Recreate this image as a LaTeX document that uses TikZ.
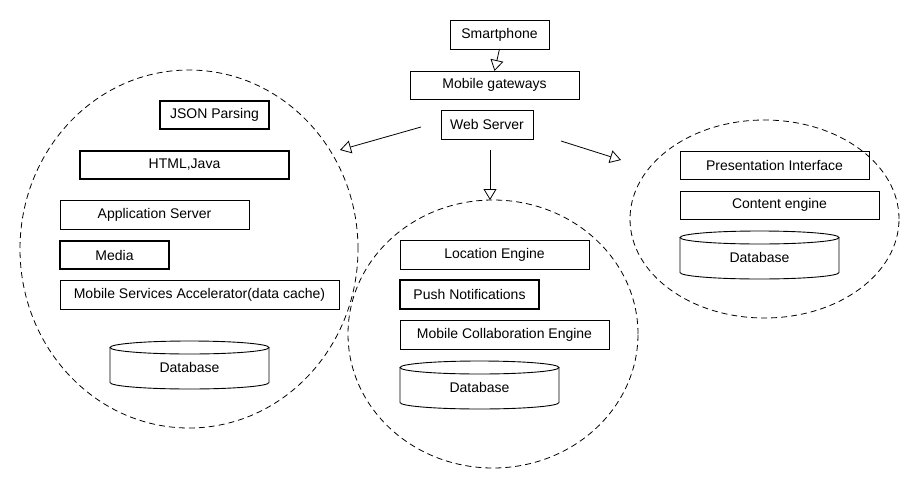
\documentclass[tikz,border=0pt]{standalone}
\usepackage{fontspec}
\setmainfont{Liberation Sans}
\usetikzlibrary{shapes.geometric,arrows.meta}
\tikzset{
  bx/.style={draw, line width=0.9pt, inner sep=0pt, outer sep=0pt, anchor=north west, font=\fontsize{14}{16}\selectfont},
  bxthick/.style={bx, line width=1.4pt},
  zone/.style={draw, ellipse, dashed, dash pattern=on 6pt off 4pt, line width=0.8pt, inner sep=0pt, outer sep=0pt},
  arr/.style={line width=0.8pt, -{Triangle[open, length=11pt, width=13pt]}},
  dblabel/.style={inner sep=0pt, font=\fontsize{14}{16}\selectfont},
}
\newcommand{\dbcyl}[5]{% name, x1, x2, ytop, ybot
  \pgfmathsetmacro{\cx}{(#2+#3)/2}
  \pgfmathsetmacro{\rx}{(#3-#2)/2}
  \draw[line width=0.9pt] (#2,{-(#4+6.5)}) -- (#2,{-(#5-6.5)})
     arc[start angle=180, end angle=360, x radius=\rx, y radius=6.5]
     -- (#3,{-(#4+6.5)});
  \draw[line width=0.9pt] (\cx,{-(#4+6.5)}) ellipse[x radius=\rx, y radius=6.5];
  \node[dblabel] (#1) at (\cx,{-(#4+#5)/2-2}) {Database};
}
\begin{document}
\begin{tikzpicture}[x=1pt,y=1pt]
\useasboundingbox (0,0) rectangle (920,-490);
% zones
\node[zone, minimum width=338pt, minimum height=358pt] (zleft) at (189,-249) {};
\node[zone, minimum width=290pt, minimum height=268pt] (zmid) at (493,-334) {};
\node[zone, minimum width=269pt, minimum height=198pt] (zright) at (764.5,-219) {};
% top chain
\node[bx, minimum width=99pt, minimum height=29pt] (sp) at (450,-20) {Smartphone};
\node[bx, minimum width=169pt, minimum height=28pt] (mg) at (410,-71) {Mobile gateways};
\node[bx, minimum width=92pt, minimum height=29pt] (ws) at (441,-110) {Web Server};
\draw[arr] (sp.south) -- (mg.north);
% left zone
\node[bxthick, minimum width=109pt, minimum height=28pt] (json) at (160,-101) {JSON Parsing};
\node[bxthick, minimum width=209pt, minimum height=28pt] (html) at (80,-151) {HTML,Java};
\node[bx, minimum width=189pt, minimum height=29pt] (app) at (60,-200) {Application Server};
\node[bxthick, minimum width=109pt, minimum height=28pt] (media) at (60,-241) {Media};
\node[bx, minimum width=279pt, minimum height=29pt] (msa) at (60,-280) {Mobile Services Accelerator(data cache)};
\dbcyl{dbl}{110}{269}{341}{389}
% middle zone
\node[bx, minimum width=189pt, minimum height=29pt] (loc) at (400,-240) {Location Engine};
\node[bxthick, minimum width=139pt, minimum height=29pt] (push) at (400,-280) {Push Notifications};
\node[bx, minimum width=209pt, minimum height=29pt] (mce) at (400,-320) {Mobile Collaboration Engine};
\dbcyl{dbm}{400}{559}{361}{409}
% right zone
\node[bx, minimum width=189pt, minimum height=28pt] (pres) at (680,-151) {Presentation Interface};
\node[bx, minimum width=199pt, minimum height=28pt] (cont) at (680,-191) {Content engine};
\dbcyl{dbr}{680}{839}{231}{279}
% arrows from web server
\coordinate (s1) at (421,-127);
\coordinate (e1) at (340,-150);
\coordinate (s2) at (490,-150);
\coordinate (e2) at (490,-200);
\coordinate (s3) at (561,-141);
\coordinate (e3) at (621,-160);
\draw[arr] (s1) -- (e1);
\draw[arr] (s2) -- (e2);
\draw[arr] (s3) -- (e3);
\end{tikzpicture}
\end{document}
